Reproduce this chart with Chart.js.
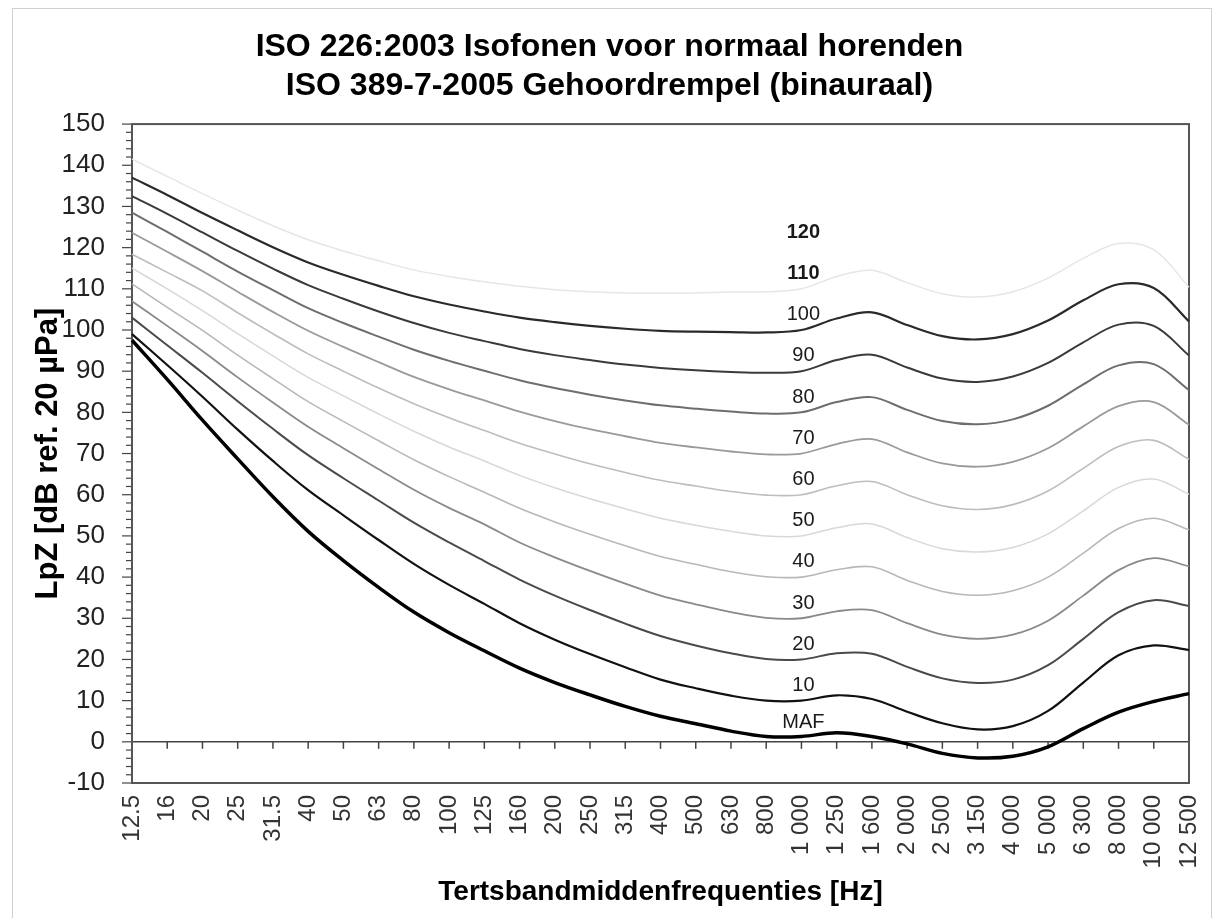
<!DOCTYPE html>
<html lang="nl">
<head>
  <meta charset="UTF-8">
  <title>ISO 226:2003 Isofonen</title>
  <script src="https://cdn.jsdelivr.net/npm/chart.js"></script>
  <style>
    html, body { margin: 0; padding: 0; background: #fff; }
    .grafiek { width: 1217px; height: 918px; }
  </style>
</head>
<body>
  <div class="grafiek">
    <canvas id="isofonen"></canvas>
  </div>

  <script>
    // tertsbandmiddenfrequenties (Hz)
    const frequenties = ['12.5', '16', '20', '25', '31.5', '40', '50', '63', '80', '100', '125', '160',
      '200', '250', '315', '400', '500', '630', '800', '1 000', '1 250', '1 600', '2 000', '2 500',
      '3 150', '4 000', '5 000', '6 300', '8 000', '10 000', '12 500'];

    // gehoordrempel (MAF) en isofonen, dB
    const maf = [97.5, 88.0, 78.1, 68.7, 59.5, 51.1, 44.0, 37.5, 31.5, 26.5, 22.1, 17.9, 14.4, 11.4, 8.6, 6.2,
      4.4, 2.6, 1.3, 1.3, 2.2, 1.3, -0.5, -2.8, -3.9, -3.5, -1.2, 3.2, 7.2, 9.8, 11.7];
    const phon10 = [99.0, 91.5, 83.8, 75.8, 68.2, 61.1, 55.0, 49.0, 43.2, 38.1, 33.5, 28.8, 24.8, 21.3, 18.1, 15.1,
      13.0, 11.2, 10.0, 10.0, 11.3, 10.4, 7.3, 4.5, 3.0, 3.8, 7.5, 14.4, 21.0, 23.4, 22.3];
    const phon20 = [103.0, 96.3, 89.6, 82.7, 76.0, 69.6, 64.0, 58.6, 53.2, 48.4, 43.9, 39.4, 35.5, 32.0, 28.7, 25.7,
      23.4, 21.5, 20.1, 20.0, 21.5, 21.4, 18.2, 15.4, 14.3, 15.1, 18.6, 25.0, 31.5, 34.4, 33.0];
    const phon30 = [107.0, 101.0, 94.9, 88.5, 82.4, 76.5, 71.3, 66.2, 61.2, 56.8, 52.8, 48.4, 44.8, 41.5, 38.4, 35.5,
      33.4, 31.5, 30.1, 30.0, 31.7, 32.0, 28.8, 26.0, 25.0, 26.0, 29.4, 35.5, 41.7, 44.6, 42.6];
    const phon40 = [111.2, 105.5, 99.9, 93.9, 88.2, 82.6, 77.8, 73.1, 68.5, 64.4, 60.6, 56.7, 53.4, 50.4, 47.6, 45.0,
      43.1, 41.3, 40.1, 40.0, 41.8, 42.5, 39.2, 36.5, 35.6, 36.7, 40.0, 45.8, 51.8, 54.3, 51.5];
    const phon50 = [115.0, 110.0, 104.7, 99.1, 93.7, 88.5, 84.0, 79.6, 75.4, 71.6, 68.2, 64.7, 61.7, 59.0, 56.6, 54.3,
      52.6, 51.1, 50.0, 50.0, 52.0, 52.9, 49.6, 46.9, 46.1, 47.2, 50.5, 56.1, 61.8, 63.8, 60.1];
    const phon60 = [118.4, 114.0, 109.5, 104.2, 99.1, 94.2, 90.0, 85.9, 82.1, 78.7, 75.6, 72.5, 69.9, 67.5, 65.4, 63.5,
      62.1, 60.8, 59.9, 60.0, 62.2, 63.2, 60.0, 57.3, 56.4, 57.6, 60.9, 66.4, 71.7, 73.2, 68.6];
    const phon70 = [123.6, 119.0, 114.3, 109.3, 104.4, 99.8, 95.9, 92.2, 88.6, 85.6, 82.9, 80.2, 77.9, 75.9, 74.2, 72.6,
      71.5, 70.5, 69.8, 70.0, 72.3, 73.5, 70.3, 67.6, 66.8, 68.0, 71.3, 76.6, 81.5, 82.5, 77.0];
    const phon80 = [128.5, 123.8, 119.0, 114.2, 109.7, 105.3, 101.7, 98.4, 95.2, 92.5, 90.1, 87.8, 85.9, 84.3, 82.9, 81.7,
      80.9, 80.2, 79.7, 80.0, 82.5, 83.7, 80.6, 77.9, 77.1, 78.3, 81.6, 86.8, 91.4, 91.7, 85.4];
    const phon90 = [132.5, 128.2, 123.7, 119.2, 114.9, 110.9, 107.6, 104.5, 101.7, 99.3, 97.3, 95.4, 93.9, 92.7, 91.6, 90.8,
      90.2, 89.8, 89.6, 90.0, 92.7, 94.0, 90.9, 88.2, 87.4, 88.7, 92.0, 97.0, 101.3, 101.0, 93.8];
    const phon100 = [137.0, 132.8, 128.4, 124.2, 120.1, 116.4, 113.4, 110.7, 108.2, 106.2, 104.5, 103.0, 101.9, 101.0, 100.3, 99.8,
      99.6, 99.5, 99.4, 100.0, 102.8, 104.3, 101.2, 98.5, 97.7, 99.0, 102.3, 107.2, 111.1, 110.2, 102.1];
    const phon110 = [141.5, 137.3, 133.1, 129.1, 125.3, 121.9, 119.2, 116.8, 114.6, 113.0, 111.7, 110.6, 109.8, 109.3, 109.0, 108.9,
      109.0, 109.2, 109.3, 110.0, 113.0, 114.5, 111.5, 108.8, 108.0, 109.3, 112.6, 117.4, 121.0, 119.5, 110.4];

    // tekstjes bij de curves (phon-niveau)
    const curveNamen = ['MAF', '10', '20', '30', '40', '50', '60', '70', '80', '90', '100', '110', '120'];
    const curveNiveaus = [1, 10, 20, 30, 40, 50, 60, 70, 80, 90, 100, 110, 120];

    const lettertype = "'Liberation Sans', Arial, sans-serif";

    const reeksen = [
      { naam: 'MAF', data: maf, kleur: '#000000', dikte: 3.5 },
      { naam: '10', data: phon10, kleur: '#111111', dikte: 2.2 },
      { naam: '20', data: phon20, kleur: '#4a4a4a', dikte: 2 },
      { naam: '30', data: phon30, kleur: '#8a8a8a', dikte: 1.8 },
      { naam: '40', data: phon40, kleur: '#b8b8b8', dikte: 1.6 },
      { naam: '50', data: phon50, kleur: '#d8d8d8', dikte: 1.5 },
      { naam: '60', data: phon60, kleur: '#bdbdbd', dikte: 1.6 },
      { naam: '70', data: phon70, kleur: '#9a9a9a', dikte: 1.8 },
      { naam: '80', data: phon80, kleur: '#6e6e6e', dikte: 2 },
      { naam: '90', data: phon90, kleur: '#3a3a3a', dikte: 2 },
      { naam: '100', data: phon100, kleur: '#2a2a2a', dikte: 2.2 },
      { naam: '110', data: phon110, kleur: '#e6e6e6', dikte: 1.5 }
    ];

    function lijn(ctx, x1, y1, x2, y2) {
      ctx.beginPath();
      ctx.moveTo(x1, y1);
      ctx.lineTo(x2, y2);
      ctx.stroke();
    }

    // kader, nul-lijn, streepjes en curve-namen
    const versiering = {
      id: 'versiering',
      beforeDraw(chart) {
        const ctx = chart.ctx;
        ctx.save();
        ctx.fillStyle = '#ffffff';
        ctx.fillRect(0, 0, chart.width, chart.height);
        ctx.strokeStyle = '#d0d0d0';
        ctx.lineWidth = 1;
        ctx.strokeRect(12.5, 8.5, chart.width - 18, chart.height - 6);
        ctx.restore();
      },
      beforeDatasetsDraw(chart) {
        const { ctx, chartArea: a, scales: { x, y } } = chart;
        ctx.save();
        ctx.strokeStyle = '#444';
        ctx.lineWidth = 1.5;
        const y0 = y.getPixelForValue(0);
        lijn(ctx, a.left, y0, a.right, y0);
        for (let i = 1; i < frequenties.length - 1; i++) {
          const px = x.getPixelForValue(i);
          lijn(ctx, px, y0, px, y0 + 7);
        }
        ctx.lineWidth = 1.2;
        for (let v = y.min; v <= y.max; v += 2) {
          const py = y.getPixelForValue(v);
          const lengte = v % 10 === 0 ? 10 : 6;
          lijn(ctx, a.left - lengte, py, a.left, py);
        }
        ctx.lineWidth = 2;
        ctx.strokeStyle = '#555';
        ctx.strokeRect(a.left, a.top, a.right - a.left, a.bottom - a.top);
        ctx.restore();
      },
      afterDatasetsDraw(chart) {
        const { ctx, scales: { x, y } } = chart;
        const px = x.getPixelForValue(frequenties.indexOf('1 000'));
        ctx.save();
        ctx.fillStyle = '#1a1a1a';
        ctx.textAlign = 'center';
        ctx.textBaseline = 'middle';
        for (let i = 0; i < curveNamen.length; i++) {
          const vet = curveNiveaus[i] >= 110;
          ctx.font = (vet ? 'bold ' : '') + '20px ' + lettertype;
          ctx.fillText(curveNamen[i], px + 2, y.getPixelForValue(curveNiveaus[i] + 3.7));
        }
        ctx.restore();
      }
    };

    const config = {
      type: 'line',
      data: {
        labels: frequenties,
        datasets: reeksen.map(r => ({
          label: r.naam,
          data: r.data,
          borderColor: r.kleur,
          borderWidth: r.dikte,
          pointRadius: 0,
          fill: false,
          tension: 0.35
        }))
      },
      options: {
        responsive: true,
        maintainAspectRatio: false,
        animation: false,
        layout: { padding: { left: 30, right: 28, top: 0, bottom: 0 } },
        plugins: {
          legend: { display: false },
          tooltip: { enabled: false },
          title: {
            display: true,
            text: ['ISO 226:2003 Isofonen voor normaal horenden', 'ISO 389-7-2005 Gehoordrempel (binauraal)'],
            color: '#000',
            font: { family: lettertype, size: 32, weight: 'bold', lineHeight: 1.22 },
            padding: { top: 28, bottom: 18 }
          }
        },
        scales: {
          x: {
            grid: { display: false, drawTicks: false },
            border: { display: false },
            ticks: {
              autoSkip: false,
              minRotation: 90,
              maxRotation: 90,
              padding: 12,
              color: '#333',
              font: { family: lettertype, size: 24 }
            },
            title: {
              display: true,
              text: 'Tertsbandmiddenfrequenties [Hz]',
              color: '#000',
              font: { family: lettertype, size: 28, weight: 'bold' },
              padding: { top: 4, bottom: 9 }
            },
            afterFit(scale) {
              scale.height = 135;
              scale.paddingLeft = 0;
              scale.paddingRight = 0;
            }
          },
          y: {
            min: -10,
            max: 150,
            grid: { display: false, drawTicks: false },
            border: { display: false },
            ticks: {
              stepSize: 10,
              padding: 27,
              color: '#222',
              font: { family: lettertype, size: 26 }
            },
            title: {
              display: true,
              text: 'LpZ [dB ref. 20 µPa]',
              color: '#000',
              font: { family: lettertype, size: 31, weight: 'bold' },
              padding: { top: 0, bottom: 4 }
            },
            afterFit(scale) { scale.width = 102; }
          }
        }
      },
      plugins: [versiering]
    };

    new Chart(document.getElementById('isofonen'), config);
  </script>
</body>
</html>
